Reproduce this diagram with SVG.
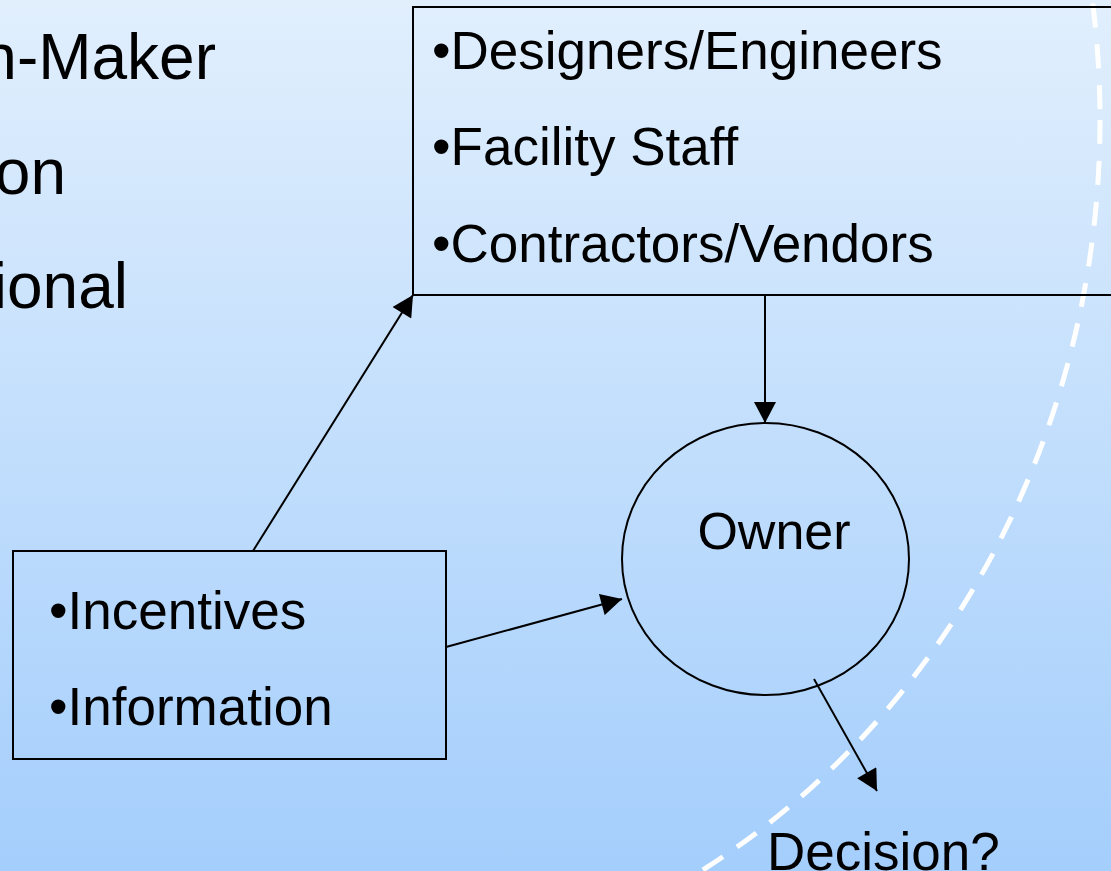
<svg xmlns="http://www.w3.org/2000/svg" width="1111" height="871" viewBox="0 0 1111 871">
  <defs>
    <linearGradient id="bg" x1="0" y1="0" x2="0" y2="1">
      <stop offset="0" stop-color="#e1effd"/>
      <stop offset="1" stop-color="#a4cefc"/>
    </linearGradient>
    <marker id="arrow" markerUnits="userSpaceOnUse" markerWidth="22" markerHeight="22" viewBox="0 0 20 21" refX="20" refY="10.5" orient="auto">
      <path d="M0,0 L20,10.5 L0,21 Z" fill="#000"/>
    </marker>
  </defs>
  <style>
    .t { font-family: "Liberation Sans", Arial, sans-serif; fill: #000; }
    .big { font-size: 64px; }
    .lbl { font-size: 53px; }
    .box { fill: none; stroke: #000; stroke-width: 2; }
    .conn { stroke: #000; stroke-width: 2; fill: none; marker-end: url(#arrow); }
  </style>

  <rect x="0" y="0" width="1111" height="871" fill="url(#bg)"/>

  <!-- boundary of the decision context -->
  <ellipse id="boundary" cx="300" cy="120" rx="800" ry="868" fill="none" stroke="#fff" stroke-width="5" stroke-dasharray="24 17"/>

  <!-- slide bullet text running off the left edge -->
  <g id="bullets">
    <text class="t big" x="216" y="79" text-anchor="end">n-Maker</text>
    <text class="t big" x="66" y="194" text-anchor="end">on</text>
    <text class="t big" x="128" y="308" text-anchor="end">ional</text>
  </g>

  <g id="actors">
    <rect class="box" x="413" y="7" width="760" height="288"/>
    <text class="t lbl" x="432" y="69">•Designers/Engineers</text>
    <text class="t lbl" x="432" y="165">•Facility Staff</text>
    <text class="t lbl" x="432" y="262">•Contractors/Vendors</text>
  </g>

  <g id="inputs">
    <rect class="box" x="13" y="551" width="433" height="208"/>
    <text class="t lbl" x="49" y="629">•Incentives</text>
    <text class="t lbl" x="49" y="725">•Information</text>
  </g>

  <g id="owner">
    <ellipse cx="765.5" cy="559" rx="143.5" ry="136" fill="none" stroke="#000" stroke-width="2"/>
    <text class="t lbl" x="774" y="549" text-anchor="middle" style="font-size:52px">Owner</text>
  </g>

  <g id="decision">
    <text class="t lbl" x="767" y="870">Decision?</text>
  </g>

  <g id="connectors">
    <line class="conn" x1="253" y1="551" x2="413" y2="295"/>
    <line class="conn" x1="446" y1="647" x2="622" y2="599"/>
    <line class="conn" x1="765" y1="295" x2="765" y2="423"/>
    <line class="conn" x1="814" y1="679" x2="877" y2="791"/>
  </g>
</svg>
